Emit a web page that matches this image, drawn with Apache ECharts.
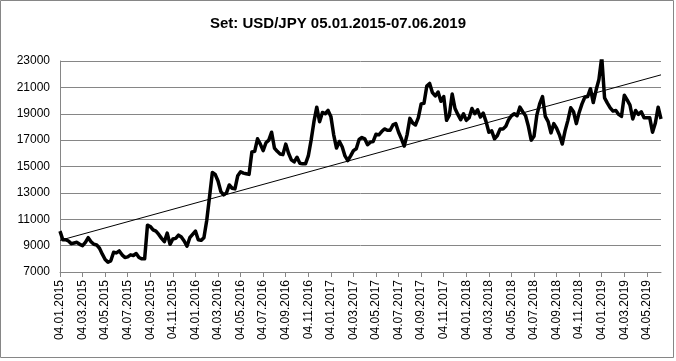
<!DOCTYPE html>
<html><head><meta charset="utf-8">
<script src="https://cdn.jsdelivr.net/npm/echarts@6/dist/echarts.min.js"></script>
<style>html,body{margin:0;padding:0;background:#fff}#c{width:676px;height:361px}</style>
</head><body><div id="c"></div>
<script>
const titleText = 'Set: USD/JPY 05.01.2015-07.06.2019';
const tickLabels = ['04.01.2015','04.03.2015','04.05.2015','04.07.2015','04.09.2015','04.11.2015',
  '04.01.2016','04.03.2016','04.05.2016','04.07.2016','04.09.2016','04.11.2016',
  '04.01.2017','04.03.2017','04.05.2017','04.07.2017','04.09.2017','04.11.2017',
  '04.01.2018','04.03.2018','04.05.2018','04.07.2018','04.09.2018','04.11.2018',
  '04.01.2019','04.03.2019','04.05.2019'];
const pointsPerLabel = 8;
const yTicks = [7000, 9000, 11000, 13000, 15000, 17000, 19000, 21000, 23000];
const rateValues = [
  10100, 9450, 9450, 9350, 9150, 9200, 9250, 9100,
  9000, 9250, 9600, 9300, 9100, 9050, 8800, 8350,
  7950, 7750, 7850, 8500, 8450, 8600, 8300, 8100,
  8150, 8300, 8250, 8400, 8100, 8000, 8000, 10550,
  10450, 10200, 10100, 9850, 9550, 9300, 9950, 9100,
  9500, 9550, 9800, 9650, 9350, 8950, 9600, 9850,
  10100, 9450, 9400, 9600, 10900, 12700, 14550, 14400,
  13900, 13100, 12850, 13000, 13600, 13350, 13300, 14300,
  14600, 14500, 14450, 14400, 16100, 16150, 17100, 16700,
  16200, 16800, 17000, 17600, 16400, 16150, 15950, 15900,
  16700, 16000, 15500, 15350, 15700, 15250, 15200, 15200,
  15800, 17000, 18400, 19500, 18400, 19100, 19000, 19250,
  18800, 17400, 16400, 16900, 16500, 15800, 15450, 15800,
  16200, 16350, 17050, 17200, 17100, 16650, 16850, 16900,
  17450, 17400, 17650, 17850, 17750, 17750, 18150, 18250,
  17600, 17100, 16550, 17400, 18650, 18300, 18150, 18700,
  19750, 19800, 21100, 21300, 20600, 20350, 20650, 19950,
  20300, 18500, 18900, 20500, 19400, 18950, 18550, 19000,
  18500, 18700, 19400, 19000, 19300, 18750, 19050, 18400,
  17600, 17700, 17100, 17350, 17850, 17850, 18050, 18550,
  18850, 19000, 18850, 19500, 19150, 18850, 18050, 17000,
  17300, 18900, 19750, 20300, 18800, 18400, 17550, 18250,
  17900, 17400, 16700, 17700, 18500, 19450, 19150, 18250,
  19100, 19750, 20250, 20300, 20900, 19850, 20800, 21600,
  23300, 20200, 19800, 19450, 19200, 19250, 18950, 18800,
  20400, 20050, 19650, 18600, 19250, 18950, 19150, 18700,
  18700, 18700, 17600, 18300, 19500, 18600
];
const trendValues = [9400, 21950];

const lastIndex = rateValues.length - 1;
const xTickValues = tickLabels.map((_, k) => k * pointsPerLabel);
const chart = echarts.init(document.getElementById('c'), null, {renderer: 'canvas'});
const font = 'Liberation Sans, Arial, sans-serif';
chart.setOption({
  animation: false,
  backgroundColor: '#fff',
  title: {
    text: titleText, left: 'center', top: 11,
    textStyle: {fontFamily: font, fontSize: 15, fontWeight: 'bold', color: '#000'}
  },
  graphic: [{
    type: 'rect', shape: {x: 0.5, y: 0.5, width: 673, height: 357},
    style: {fill: 'none', stroke: '#868686', lineWidth: 1}, silent: true, z: -1
  }],
  grid: {left: 60, right: 15, top: 61, bottom: 89},
  xAxis: {
    type: 'value', min: 0, max: lastIndex,
    axisLine: {show: true, onZero: false, lineStyle: {color: '#868686', width: 1}},
    axisTick: {show: true, length: 5, inside: false, customValues: xTickValues, lineStyle: {color: '#868686'}},
    axisLabel: {
      customValues: xTickValues, rotate: 90, margin: 8,
      fontFamily: font, fontSize: 12, color: '#000',
      formatter: v => tickLabels[Math.round(v / pointsPerLabel)] || ''
    },
    splitLine: {show: false}
  },
  yAxis: {
    type: 'value', min: yTicks[0], max: yTicks[yTicks.length - 1],
    axisLine: {show: true, lineStyle: {color: '#868686', width: 1}},
    axisTick: {show: false, customValues: yTicks},
    axisLabel: {customValues: yTicks, margin: 10, fontFamily: font, fontSize: 12, color: '#000',
      formatter: v => String(v)},
    splitLine: {show: true, lineStyle: {color: '#868686', width: 1}}
  },
  series: [
    {
      type: 'line', data: rateValues.map((v, i) => [i, v]), showSymbol: false,
      lineStyle: {color: '#000', width: 3.5, join: 'round'}, z: 3
    },
    {
      type: 'line', data: [[0, trendValues[0]], [lastIndex, trendValues[1]]], showSymbol: false,
      lineStyle: {color: '#000', width: 1}, z: 4
    }
  ]
});
</script>
</body></html>
